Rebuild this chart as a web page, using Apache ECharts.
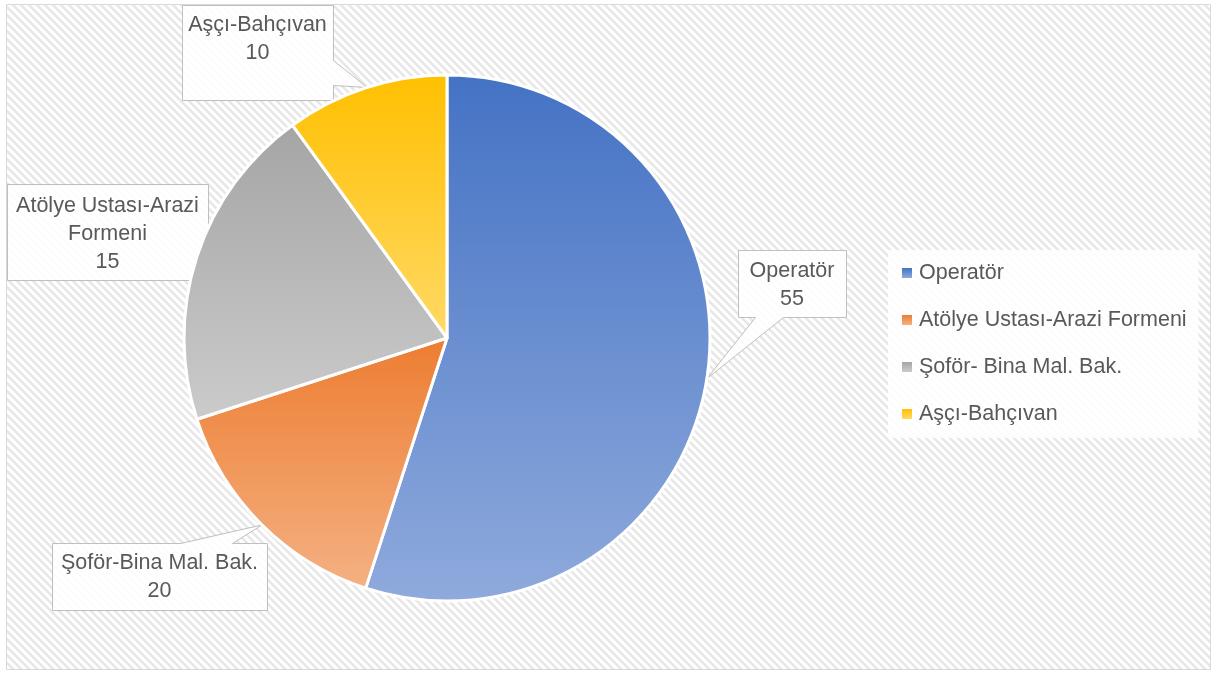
<!DOCTYPE html>
<html>
<head>
<meta charset="utf-8">
<script src="https://cdn.jsdelivr.net/npm/echarts@6/dist/echarts.min.js"></script>
<style>
  html, body { margin: 0; padding: 0; background: #ffffff; }
  #chart { width: 1217px; height: 674px; }
</style>
</head>
<body>
<div id="chart"></div>
<script>
// ---- data ----
const categories = ['Operatör', 'Atölye Ustası-Arazi Formeni', 'Şoför- Bina Mal. Bak.', 'Aşçı-Bahçıvan'];
const values = [55, 15, 20, 10];
// data-label texts as shown on the chart (one per slice, in slice order)
const labelNames = ['Operatör', 'Şoför-Bina Mal. Bak.', 'Atölye Ustası-Arazi\nFormeni', 'Aşçı-Bahçıvan'];
const labelValues = [55, 20, 15, 10];

// ---- styling / layout ----
const colorTop = ['#4472C4', '#ED7D31', '#A5A5A5', '#FFC000'];
const colorBottom = ['#8FAADC', '#F4B183', '#CBCBCB', '#FFD966'];
const FONT = 'Liberation Sans';
const FS = 21.5;
const TEXT = '#595959';
const pieCenter = [447, 338];
const pieRadius = 263;

// callout boxes [x1, y1, x2, y2], pointer side, pointer base range, pointer angle (deg clockwise from top)
const callouts = [
  { box: [738, 250, 846, 317], side: 'bottom', base: [755, 783], angle: 98.9, text: [792, 285] },
  { box: [52, 543, 267, 610], side: 'top', base: [180, 232], angle: 224.7, text: [159.5, 577] },
  { box: [7, 184, 208, 280], side: null, text: [107.5, 234] },
  { box: [182, 5, 333, 100], side: 'right', base: [60, 85], angle: 342.3, text: [257.5, 39] }
];

function hatchPattern() {
  const c = document.createElement('canvas');
  c.width = 8; c.height = 8;
  const g = c.getContext('2d');
  g.fillStyle = '#ffffff';
  g.fillRect(0, 0, 8, 8);
  g.strokeStyle = '#e7e7e7';
  g.lineWidth = 2.6;
  for (let k = -1; k <= 1; k++) {
    g.beginPath();
    g.moveTo(k * 8 - 1, -1);
    g.lineTo(k * 8 + 9, 9);
    g.stroke();
  }
  return c;
}

function apexPoint(angleDeg) {
  const a = angleDeg * Math.PI / 180;
  return [pieCenter[0] + pieRadius * Math.sin(a), pieCenter[1] - pieRadius * Math.cos(a)];
}

function calloutPoints(c) {
  const [x1, y1, x2, y2] = c.box.map(v => v + 0.5);
  if (!c.side) return [[x1, y1], [x2, y1], [x2, y2], [x1, y2]];
  const ap = apexPoint(c.angle);
  const b0 = c.base[0] + 0.5, b1 = c.base[1] + 0.5;
  if (c.side === 'bottom') return [[x1, y1], [x2, y1], [x2, y2], [b1, y2], ap, [b0, y2], [x1, y2]];
  if (c.side === 'top') return [[x1, y1], [b0, y1], ap, [b1, y1], [x2, y1], [x2, y2], [x1, y2]];
  if (c.side === 'right') return [[x1, y1], [x2, y1], [x2, b0], ap, [x2, b1], [x2, y2], [x1, y2]];
  return [[x1, y1], [x2, y1], [x2, y2], [x1, y2]];
}

const pieData = categories.map((name, i) => ({
  name: name,
  value: values[i],
  itemStyle: {
    color: new echarts.graphic.LinearGradient(0, 0, 0, 1, [
      { offset: 0, color: colorTop[i] },
      { offset: 1, color: colorBottom[i] }
    ])
  }
}));

const graphics = [{
  type: 'rect',
  z: 0, z2: 0,
  silent: true,
  shape: { x: 6.5, y: 4.5, width: 1204, height: 665 },
  style: { fill: { image: hatchPattern(), repeat: 'repeat' }, stroke: '#d9d9d9', lineWidth: 1 }
}];
callouts.forEach(c => {
  graphics.push({
    type: 'polygon',
    z: 1, z2: 1,
    silent: true,
    shape: { points: calloutPoints(c) },
    style: { fill: 'rgba(255,255,255,0.88)', stroke: '#bfbfbf', lineWidth: 1 }
  });
});

const chart = echarts.init(document.getElementById('chart'), null, { renderer: 'canvas' });
chart.setOption({
  animation: false,
  graphic: graphics,
  legend: {
    data: categories,
    orient: 'vertical',
    left: 888,
    top: 250,
    padding: [12, 12, 13, 14],
    itemGap: 25,
    itemWidth: 10,
    itemHeight: 10,
    icon: 'rect',
    selectedMode: false,
    backgroundColor: 'rgba(255,255,255,0.85)',
    itemStyle: { borderWidth: 0 },
    textStyle: { fontFamily: FONT, fontSize: FS, color: TEXT, lineHeight: 20, padding: [0, 0, 0, 2] }
  },
  series: [{
    type: 'pie',
    z: 2,
    center: pieCenter,
    radius: pieRadius,
    startAngle: 90,
    clockwise: true,
    silent: true,
    emphasis: { disabled: true },
    itemStyle: { borderColor: '#ffffff', borderWidth: 3 },
    label: {
      show: true,
      position: 'outside',
      formatter: p => labelNames[p.dataIndex] + '\n' + labelValues[p.dataIndex],
      fontFamily: FONT,
      fontSize: FS,
      color: TEXT,
      lineHeight: 28,
      align: 'center',
      overflow: 'none',
      width: 400
    },
    labelLine: { show: false },
    labelLayout: function (params) {
      const c = callouts[params.dataIndex];
      return { x: c.text[0], y: c.text[1], align: 'center', verticalAlign: 'middle' };
    },
    data: pieData
  }]
});
</script>
</body>
</html>
